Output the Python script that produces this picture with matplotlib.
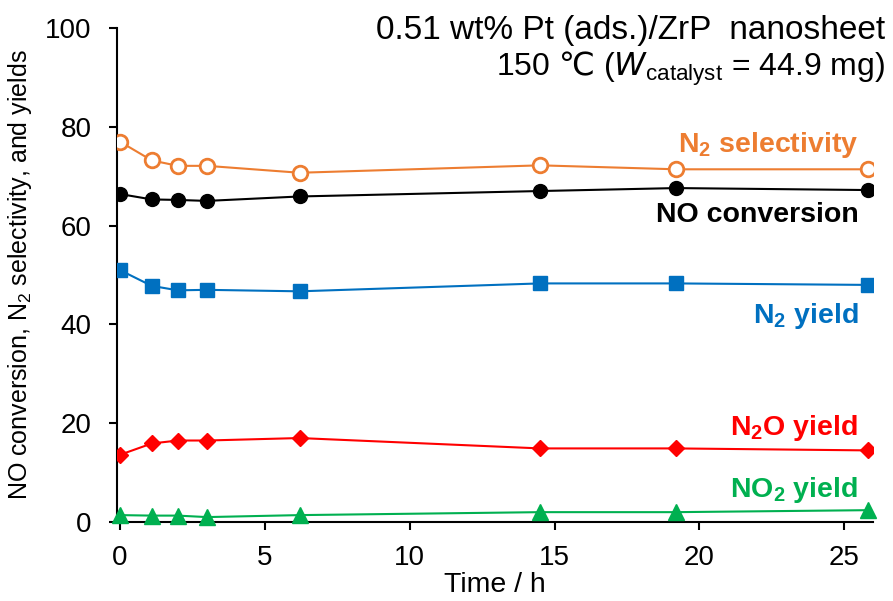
import matplotlib
matplotlib.use("Agg")
import matplotlib.pyplot as plt

time_h = [0, 1.1, 2.0, 3.0, 6.2, 14.5, 19.2, 25.8]
n2_selectivity = [77.0, 73.2, 72.1, 72.1, 70.7, 72.2, 71.4, 71.4]
no_conversion = [66.4, 65.3, 65.2, 65.0, 65.9, 67.0, 67.6, 67.2]
n2_yield = [51.0, 47.8, 46.9, 47.0, 46.7, 48.3, 48.3, 48.0]
n2o_yield = [13.6, 15.9, 16.5, 16.5, 17.0, 14.9, 14.9, 14.5]
no2_yield = [1.4, 1.3, 1.3, 1.0, 1.4, 2.0, 2.0, 2.4]

xticks = [0, 5, 10, 15, 20, 25]
yticks = [0, 20, 40, 60, 80, 100]

plt.rcParams['font.family'] = ['Liberation Sans', 'DejaVu Sans']
plt.rcParams['mathtext.fontset'] = 'dejavusans'

fig = plt.figure(figsize=(8.93, 6.01), dpi=100)
ax = fig.add_axes([0.131, 0.1314, 0.847, 0.822])

c_orange = '#ED7D31'
c_blue = '#0070C0'
c_red = '#FF0000'
c_green = '#00B050'

ax.plot(time_h, n2_selectivity, '-o', color=c_orange, mfc='white', mec=c_orange, mew=2, ms=10.5, lw=1.5, zorder=3)
ax.plot(time_h, no_conversion, '-o', color='black', ms=10, lw=1.5, zorder=3)
ax.plot(time_h, n2_yield, '-s', color=c_blue, ms=10, lw=1.5, zorder=3)
ax.plot(time_h, n2o_yield, '-D', color=c_red, ms=8.5, lw=1.5, zorder=3)
ax.plot(time_h, no2_yield, '-^', color=c_green, ms=11, lw=1.5, zorder=3, clip_on=False)

ax.set_xlim(-0.1, 26.0)
ax.set_ylim(0, 100)
ax.set_xticks(xticks)
ax.set_yticks(yticks)
for s in ['top', 'right']:
    ax.spines[s].set_visible(False)
for s in ['left', 'bottom']:
    ax.spines[s].set_linewidth(1.5)
ax.tick_params(axis='both', direction='out', length=5.5, width=1.5, labelsize=20)
ax.tick_params(axis='x', pad=11)
ax.tick_params(axis='y', pad=13)

ax.set_xlabel('Time / h', fontsize=20.5, labelpad=0.5)
ax.set_ylabel('NO conversion, N$_\\mathregular{2}$ selectivity, and yields', fontsize=18, labelpad=8)

fs = 20.5
xr = 25.48
ax.text(xr, 74.9, 'N$_\\mathregular{2}$ selectivity', color=c_orange, fontsize=fs, fontweight='bold', ha='right', va='baseline')
ax.text(xr, 60.7, 'NO conversion', color='black', fontsize=fs, fontweight='bold', ha='right', va='baseline')
ax.text(xr, 40.3, 'N$_\\mathregular{2}$ yield', color=c_blue, fontsize=fs, fontweight='bold', ha='right', va='baseline')
ax.text(xr, 17.6, 'N$_\\mathregular{2}$O yield', color=c_red, fontsize=fs, fontweight='bold', ha='right', va='baseline')
ax.text(xr, 5.1, 'NO$_\\mathregular{2}$ yield', color=c_green, fontsize=fs, fontweight='bold', ha='right', va='baseline')

fig.text(0.991, 1 - 30 / 601, '0.51 wt% Pt (ads.)/ZrP  nanosheet', fontsize=24, ha='right', va='center')
fig.text(0.991, 1 - 69 / 601, '150 $\\mathrm{\u2103}$ ($\\mathit{W}_\\mathregular{catalyst}$ = 44.9 mg)', fontsize=23,
         ha='right', va='center')

fig.savefig('out.png', dpi=100)
